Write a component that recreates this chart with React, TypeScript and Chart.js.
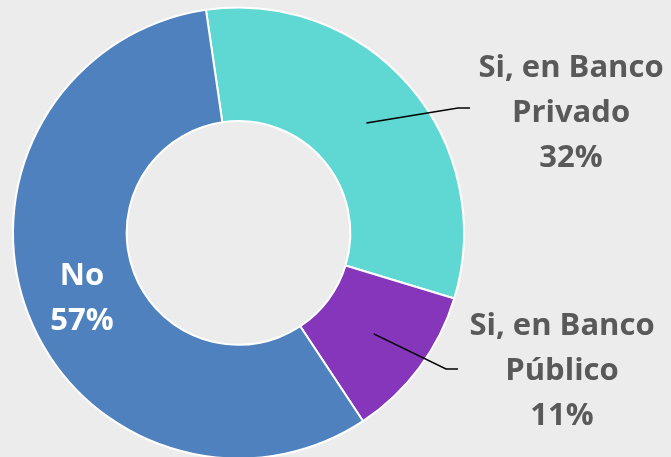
import React, { useEffect, useRef } from "react";
import { Chart, registerables } from "chart.js";

Chart.register(...registerables);

const categories = ["Si, en Banco Privado", "Si, en Banco Público", "No"];
const values = [32, 11, 57];
const labelLines = [["Si, en Banco", "Privado", "32%"], ["Si, en Banco", "Público", "11%"], ["No", "57%"]];
const colors = ["#5fd7d3", "#8536ba", "#4e81bd"];

const labelPlugin = {
  id: "sliceLabels",
  afterDatasetsDraw(chart: any) {
    const ctx = chart.ctx;
    const meta = chart.getDatasetMeta(0);
    const font = "bold 31px 'Open Sans', sans-serif";
    const layout = [
      { x: 571, y: 68, color: "#595959", elbow: [458, 108], end: [470, 108] },
      { x: 562, y: 326, color: "#595959", elbow: [446, 369], end: [458, 369] },
      { x: 82, y: 276, color: "#ffffff", elbow: null, end: null },
    ];
    ctx.save();
    meta.data.forEach((arc: any, i: number) => {
      const L = layout[i];
      const p = arc.getProps(["x", "y", "startAngle", "endAngle", "innerRadius", "outerRadius"], true);
      if (L.elbow) {
        const mid = (p.startAngle + p.endAngle) / 2;
        const r = (p.innerRadius + p.outerRadius) / 2;
        const sx = p.x + Math.cos(mid) * r;
        const sy = p.y + Math.sin(mid) * r;
        ctx.beginPath();
        ctx.strokeStyle = "#000000";
        ctx.lineWidth = 1.5;
        ctx.moveTo(sx, sy);
        ctx.lineTo(L.elbow[0], L.elbow[1]);
        ctx.lineTo(L.end![0], L.end![1]);
        ctx.stroke();
      }
      ctx.font = font;
      ctx.fillStyle = L.color;
      ctx.textAlign = "center";
      ctx.textBaseline = "middle";
      labelLines[i].forEach((t, k) => {
        ctx.fillText(t, L.x, L.y + k * 45);
      });
    });
    ctx.restore();
  },
};

export default function App() {
  const ref = useRef<HTMLCanvasElement>(null);
  useEffect(() => {
    document.body.style.margin = "0";
    document.body.style.background = "#ececec";
    const chart = new Chart(ref.current!, {
      type: "doughnut",
      data: {
        labels: categories,
        datasets: [
          {
            data: values,
            backgroundColor: colors,
            borderColor: "#ffffff",
            borderWidth: 2,
          },
        ],
      },
      options: {
        animation: false,
        responsive: false,
        rotation: -8.3,
        cutout: "49.6%",
        layout: { padding: { left: 12, right: 206, top: 6.5, bottom: 0.5 } },
        plugins: { legend: { display: false }, tooltip: { enabled: false } },
      },
      plugins: [labelPlugin],
    });
    return () => chart.destroy();
  }, []);
  return (
    <div style={{ position: "fixed", left: 0, top: 0, width: 671, height: 460, background: "#ececec" }}>
      <canvas ref={ref} width={671} height={460} style={{ display: "block" }} />
    </div>
  );
}
